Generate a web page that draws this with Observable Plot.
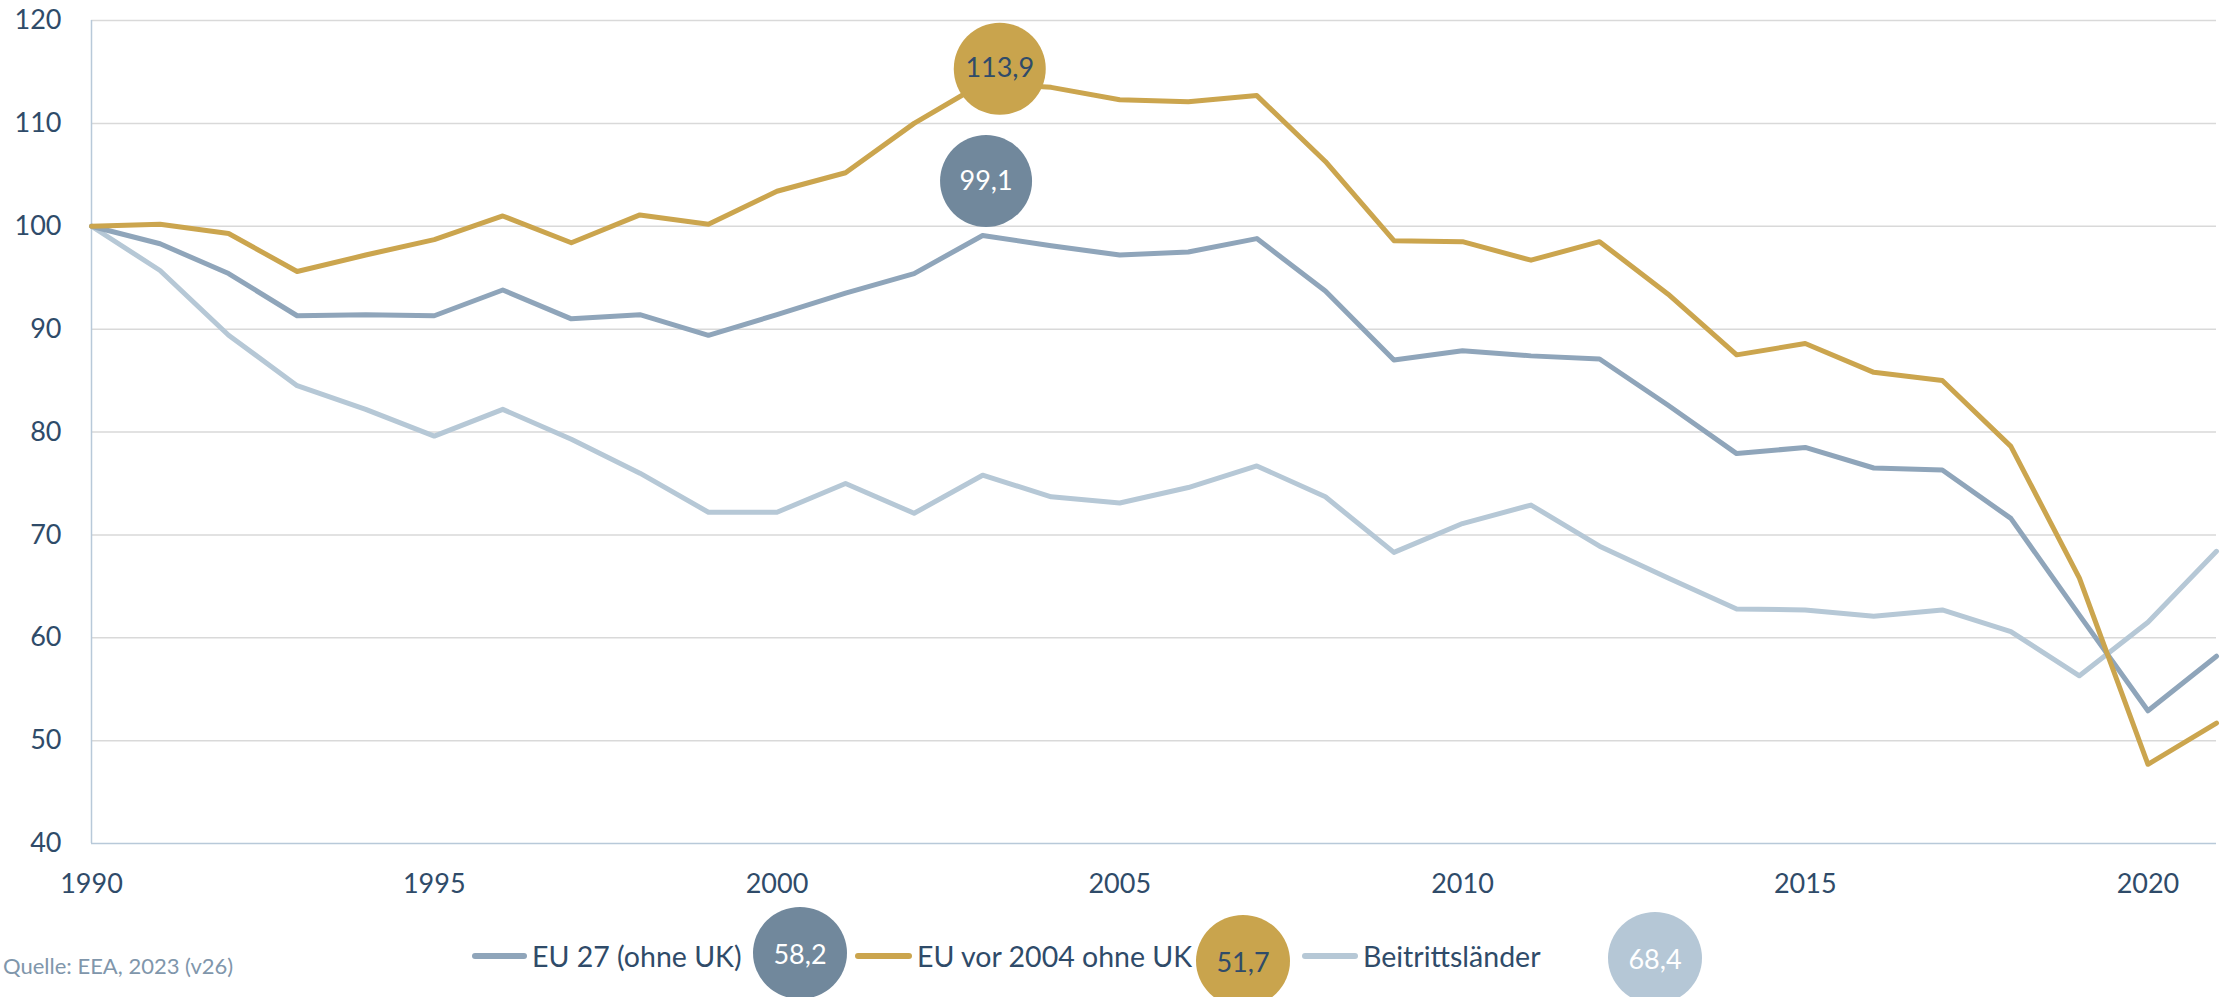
<!DOCTYPE html>
<html>
<head>
<meta charset="utf-8">
<script src="https://cdn.jsdelivr.net/npm/d3@7"></script>
<script src="https://cdn.jsdelivr.net/npm/@observablehq/plot@0.6"></script>
<style>
  html, body { margin: 0; padding: 0; background: #fff; overflow: hidden; }
  #wrap { position: relative; width: 2223px; height: 997px; overflow: hidden; font-family: Lato, "Open Sans", sans-serif; }
  #chart { position: absolute; left: 0; top: 0; }
  .sw { position: absolute; height: 6px; border-radius: 3px; }
  .lt { position: absolute; font-size: 28.5px; color: #2f4b69; line-height: 1; transform: translateY(-50%); white-space: nowrap; }
  .bub { position: absolute; width: 94px; height: 92px; border-radius: 50%; display: flex; align-items: center; justify-content: center; font-size: 27px; transform: translate(-50%, -50%); }
  #cap { position: absolute; left: 3px; top: 965px; transform: translateY(-50%); font-size: 22px; color: #8096ab; white-space: nowrap; }
</style>
</head>
<body>
<div id="wrap">
  <div id="chart"></div>
  <div id="legend"></div>
  <div id="cap"></div>
</div>
<script>
// ---- data ----
const years = [1990,1991,1992,1993,1994,1995,1996,1997,1998,1999,2000,2001,2002,2003,2004,2005,2006,2007,2008,2009,2010,2011,2012,2013,2014,2015,2016,2017,2018,2019,2020,2021];
const eu27 = [100.0,98.3,95.4,91.3,91.4,91.3,93.8,91.0,91.4,89.4,91.4,93.5,95.4,99.1,98.1,97.2,97.5,98.8,93.7,87.0,87.9,87.4,87.1,82.6,77.9,78.5,76.5,76.3,71.6,62.2,52.9,58.2];
const euVor2004 = [100.0,100.2,99.3,95.6,97.2,98.7,101.0,98.4,101.1,100.2,103.4,105.2,110.0,113.9,113.5,112.3,112.1,112.7,106.3,98.6,98.5,96.7,98.5,93.4,87.5,88.6,85.8,85.0,78.6,65.8,47.7,51.7];
const beitritt = [100.0,95.7,89.4,84.5,82.2,79.6,82.2,79.3,76.0,72.2,72.2,75.0,72.1,75.8,73.7,73.1,74.6,76.7,73.7,68.3,71.1,72.9,68.9,65.8,62.8,62.7,62.1,62.7,60.6,56.3,61.5,68.4];
const seriesNames = ["EU 27 (ohne UK)", "EU vor 2004 ohne UK", "Beitrittsländer"];
const xTicks = [1990,1995,2000,2005,2010,2015,2020];
const yTicks = [40,50,60,70,80,90,100,110,120];
const caption = "Quelle: EEA, 2023 (v26)";
// peak annotations (data coordinates of the bubble anchors)
const peakSeries = ["EU vor 2004 ohne UK", "EU 27 (ohne UK)"];
const peakYear = [2003, 2003];
const peakAnchorX = [2003.25, 2003.05];
const peakAnchorY = [115.3, 104.4];

// ---- styles ----
const lineColors = ["#8fa5ba", "#cba54e", "#b6c8d6"];
const bubbleColors = {"EU 27 (ohne UK)": "#71889c", "EU vor 2004 ohne UK": "#c9a44d", "Beitrittsländer": "#b5c7d6"};
const bubbleText = {"EU 27 (ohne UK)": "#ffffff", "EU vor 2004 ohne UK": "#2f4b69", "Beitrittsländer": "#ffffff"};
const navy = "#2f4b69";
const fmt = v => v.toFixed(1).replace(".", ",");

const valuesBySeries = {"EU 27 (ohne UK)": eu27, "EU vor 2004 ohne UK": euVor2004, "Beitrittsländer": beitritt};
const table = [];
for (const s of ["Beitrittsländer", "EU 27 (ohne UK)", "EU vor 2004 ohne UK"]) {
  valuesBySeries[s].forEach((v, i) => table.push({series: s, year: years[i], value: v}));
}
const peaks = peakSeries.map((s, i) => ({
  series: s,
  x: peakAnchorX[i],
  y: peakAnchorY[i],
  label: fmt(valuesBySeries[s][years.indexOf(peakYear[i])])
}));

const peakMarks = peaks.flatMap(p => [
  Plot.dot([p], {x: "x", y: "y", r: 46, fill: bubbleColors[p.series], stroke: "none"}),
  Plot.text([p], {x: "x", y: "y", text: "label", fill: bubbleText[p.series], fontSize: 27})
]);

const chart = Plot.plot({
  width: 2223,
  height: 900,
  marginTop: 20,
  marginLeft: 91,
  marginRight: 7,
  marginBottom: 57,
  style: {fontFamily: "Lato, 'Open Sans', sans-serif", fontSize: "27px", color: navy, background: "transparent", overflow: "visible"},
  x: {domain: [1990, 2021], ticks: xTicks, tickFormat: d => String(d), tickSize: 0, tickPadding: 30, label: null},
  y: {domain: [40, 120], ticks: yTicks, tickSize: 0, tickPadding: 30, label: null},
  color: {domain: seriesNames, range: lineColors},
  marks: [
    Plot.ruleY(yTicks.filter(t => t > 40), {stroke: "#d9d9d9", strokeWidth: 1.5}),
    Plot.ruleX([1990], {stroke: "#b8c9d9", strokeWidth: 1.5}),
    Plot.ruleY([40], {stroke: "#b8c9d9", strokeWidth: 1.5}),
    Plot.line(table, {x: "year", y: "value", z: "series", stroke: "series", strokeWidth: 5, strokeLinejoin: "round", strokeLinecap: "round"}),
    ...peakMarks
  ]
});
document.getElementById("chart").appendChild(chart);

// ---- legend (HTML, below the plot area) ----
const legendLayout = [
  {sw: 472, swW: 55, text: 532, bx: 800, by: 953},
  {sw: 855, swW: 57, text: 917, bx: 1243, by: 961},
  {sw: 1302, swW: 56, text: 1363, bx: 1655, by: 958}
];
const legend = document.getElementById("legend");
seriesNames.forEach((s, i) => {
  const L = legendLayout[i];
  const sw = document.createElement("div");
  sw.className = "sw";
  sw.style.left = L.sw + "px"; sw.style.width = L.swW + "px"; sw.style.top = "953px";
  sw.style.background = lineColors[i];
  legend.appendChild(sw);
  const t = document.createElement("div");
  t.className = "lt";
  t.style.left = L.text + "px"; t.style.top = "956px";
  t.textContent = s;
  legend.appendChild(t);
  const b = document.createElement("div");
  b.className = "bub";
  b.style.left = L.bx + "px"; b.style.top = L.by + "px";
  b.style.background = bubbleColors[s];
  b.style.color = bubbleText[s];
  const vals = valuesBySeries[s];
  b.textContent = fmt(vals[vals.length - 1]);
  legend.appendChild(b);
});
document.getElementById("cap").textContent = caption;
</script>
</body>
</html>
